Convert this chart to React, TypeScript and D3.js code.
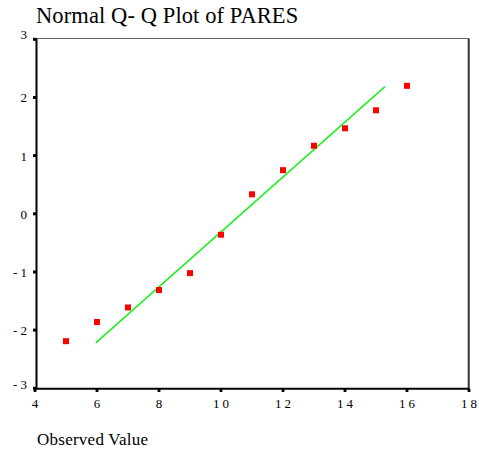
import React from "react";
import * as d3 from "d3";

const observed = [5, 6, 7, 8, 9, 10, 11, 12, 13, 14, 15, 16];
const expectedNormal = [-2.19, -1.86, -1.61, -1.31, -1.02, -0.36, 0.335, 0.75, 1.17, 1.47, 1.78, 2.2];
const lineX = [5.96, 15.29];
const lineY = [-2.22, 2.185];
const xTicks = [4, 6, 8, 10, 12, 14, 16, 18];
const yTicks = [3, 2, 1, 0, -1, -2, -3];
const titleText = "Normal Q- Q Plot of PARES";
const xTitle = "Observed Value";

const W = 479;
const H = 454;
const FONT = "'Liberation Serif', 'Times New Roman', serif";

export default function App() {
  const x = d3.scaleLinear().domain([4, 18]).range([35, 469]);
  const y = d3.scaleLinear().domain([-3, 3]).range([388.3, 39.3]);
  const left = 36.5;
  const right = 468.7;
  const top = 38.5;
  const bottom = 388.7;

  const lineGen = d3
    .line<number>()
    .x((_, i) => x(lineX[i]))
    .y((_, i) => y(lineY[i]));

  const fmtY = (d: number) => (d < 0 ? "- " + Math.abs(d) : String(d));
  const yBase = (d: number) => (d === 3 ? y(d) - 0.5 : d === -3 ? y(d) + 1 : y(d) + 5);

  return (
    <svg
      width={W}
      height={H}
      style={{ position: "absolute", left: 0, top: 0, background: "#fff" }}
    >
      <rect x={0} y={0} width={W} height={H} fill="#fff" />
      <text x={36} y={23} fontFamily={FONT} fontSize={22.5} letterSpacing={0.1} fill="#000">
        {titleText}
      </text>
      {/* frame */}
      <line x1={left} x2={right} y1={top} y2={top} stroke="#666" strokeWidth={1} />
      <line x1={right} x2={right} y1={top} y2={bottom} stroke="#333" strokeWidth={2} />
      <line x1={left} x2={left} y1={top} y2={bottom + 1} stroke="#000" strokeWidth={2} />
      <line x1={left} x2={right + 1} y1={bottom} y2={bottom} stroke="#000" strokeWidth={2} />
      {/* y ticks */}
      {yTicks.map((d) => (
        <g key={"y" + d}>
          <rect x={33} y={y(d) - 1.5} width={3.5} height={3} fill="#000" />
          <text
            x={27}
            y={yBase(d)}
            textAnchor="end"
            fontFamily={FONT}
            fontSize={13}
            fill="#000"
          >
            {fmtY(d)}
          </text>
        </g>
      ))}
      {/* x ticks */}
      {xTicks.map((d) => (
        <g key={"x" + d}>
          <rect x={x(d) - 1.5} y={389} width={3} height={3} fill="#000" rx={0.8} />
          <text
            x={x(d) + (String(d).length > 1 ? 1.5 : 0)}
            y={407.5}
            textAnchor="middle"
            fontFamily={FONT}
            fontSize={13}
            letterSpacing={String(d).length > 1 ? 3 : 0}
            fill="#000"
          >
            {String(d)}
          </text>
        </g>
      ))}
      {/* reference line */}
      <path d={lineGen([0, 1]) || ""} stroke="#22ee22" strokeWidth={1.6} fill="none" />
      {/* points */}
      {observed.map((v, i) => (
        <rect
          key={"p" + i}
          x={x(v) - 3}
          y={y(expectedNormal[i]) - 3}
          width={6}
          height={6}
          fill="#ff0000"
        />
      ))}
      <text x={37} y={445} fontFamily={FONT} fontSize={17} letterSpacing={0.25} fill="#000">
        {xTitle}
      </text>
    </svg>
  );
}
